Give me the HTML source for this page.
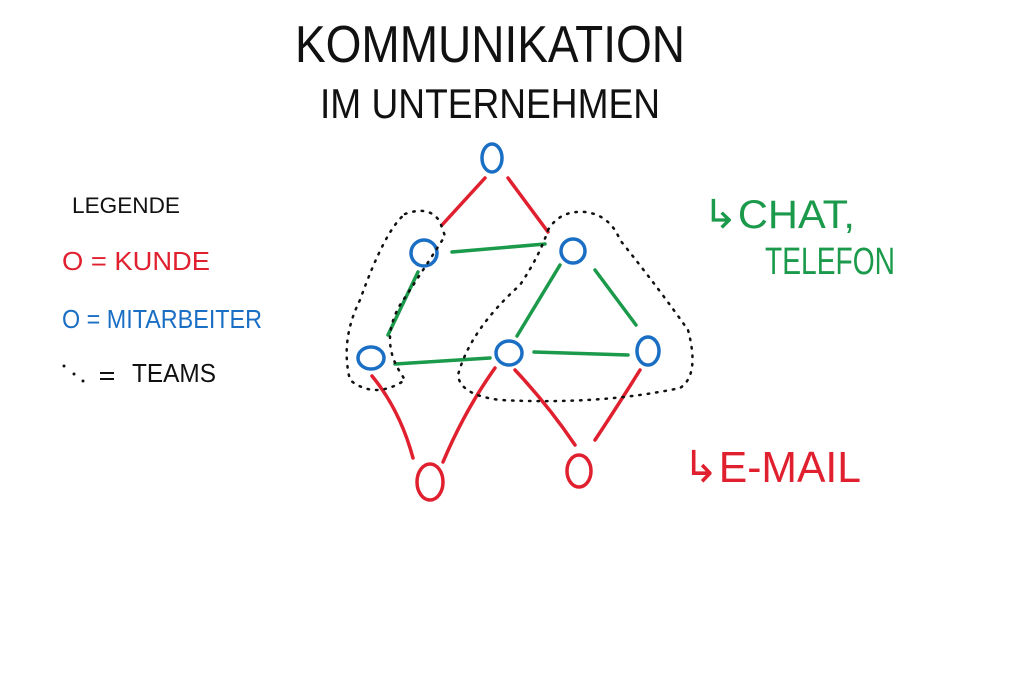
<!DOCTYPE html>
<html><head><meta charset="utf-8"><style>
html,body{margin:0;padding:0;background:#fff;}
svg{display:block}
text{font-family:"Liberation Sans",sans-serif;}
</style></head><body>
<svg width="1024" height="683" viewBox="0 0 1024 683" xmlns="http://www.w3.org/2000/svg">
<rect width="1024" height="683" fill="#fff"/>
<g fill="#111" font-weight="normal">
<text x="295" y="62" font-size="52" textLength="390" lengthAdjust="spacingAndGlyphs">KOMMUNIKATION</text>
<text x="320" y="118" font-size="42" textLength="340" lengthAdjust="spacingAndGlyphs">IM UNTERNEHMEN</text>
<text x="72" y="213" font-size="22" textLength="108" lengthAdjust="spacingAndGlyphs">LEGENDE</text>
<text x="132" y="382" font-size="26" textLength="84" lengthAdjust="spacingAndGlyphs">TEAMS</text>
</g>
<g fill="#e0202e">
<text x="62" y="270" font-size="26" textLength="148" lengthAdjust="spacingAndGlyphs">O = KUNDE</text>
<text x="683" y="482" font-size="44" textLength="178" lengthAdjust="spacingAndGlyphs">↳E-MAIL</text>
</g>
<text x="62" y="328" font-size="26" fill="#1a6fc4" textLength="200" lengthAdjust="spacingAndGlyphs">O = MITARBEITER</text>
<g fill="#1a9a4a">
<text x="703" y="228" font-size="40" textLength="152" lengthAdjust="spacingAndGlyphs">↳CHAT,</text>
<text x="765" y="274" font-size="38" textLength="130" lengthAdjust="spacingAndGlyphs">TELEFON</text>
</g>
<g fill="#111"><circle cx="64" cy="366" r="1.5"/><circle cx="74" cy="374" r="1.5"/><circle cx="83" cy="381" r="1.5"/><rect x="100" y="372" width="14" height="2"/><rect x="100" y="378" width="14" height="2"/></g>
<g stroke="#e0202e" stroke-width="3.5" fill="none" stroke-linecap="round">
<path d="M485 178 L442 225"/><path d="M508 178 L548 232"/>
<path d="M372 376 Q400 410 413 458"/><path d="M495 368 Q465 410 443 462"/>
<path d="M515 370 Q548 405 575 445"/><path d="M640 370 Q615 410 595 440"/>
<ellipse cx="430" cy="482" rx="13" ry="18"/><ellipse cx="579" cy="471" rx="12" ry="16"/>
</g>
<g stroke="#1a9a4a" stroke-width="3.5" fill="none" stroke-linecap="round">
<path d="M452 252 L545 244"/><path d="M418 272 L388 335"/><path d="M560 265 L517 336"/>
<path d="M595 270 L636 325"/><path d="M395 364 L490 358"/><path d="M534 352 L628 355"/>
</g>
<g stroke="#1a6fc4" stroke-width="3.5" fill="none">
<ellipse cx="492" cy="158" rx="10" ry="14"/><ellipse cx="424" cy="253" rx="13" ry="13"/>
<ellipse cx="573" cy="251" rx="12" ry="12"/><ellipse cx="371" cy="358" rx="13" ry="11"/>
<ellipse cx="509" cy="353" rx="13" ry="12"/><ellipse cx="648" cy="351" rx="11" ry="14"/>
</g>
<g stroke="#111" stroke-width="2.5" fill="none" stroke-dasharray="1.5 7" stroke-linecap="round">
<path d="M405 214 Q430 205 440 222 L445 236 Q420 275 400 305 Q380 340 400 372 L405 380 Q375 400 350 380 Q340 340 360 300 Q385 230 405 214 Z"/>
<path d="M548 230 Q560 210 585 212 Q610 215 620 240 Q660 290 688 330 Q700 375 680 388 Q600 405 500 400 Q460 395 458 375 Q470 330 520 285 Q540 255 548 230 Z"/>
</g>
</svg>
</body></html>
